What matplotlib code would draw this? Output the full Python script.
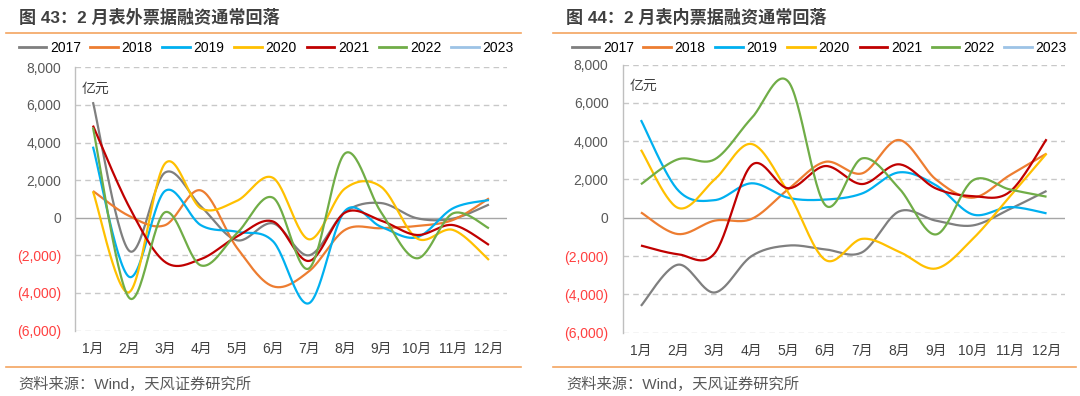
import matplotlib
matplotlib.use("Agg")
import matplotlib.pyplot as plt
from matplotlib.lines import Line2D
from matplotlib.ticker import FuncFormatter
import numpy as np

plt.rcParams['font.family'] = ['Liberation Sans', 'Noto Sans CJK SC', 'DejaVu Sans']

months = ["1月", "2月", "3月", "4月", "5月", "6月", "7月", "8月", "9月", "10月", "11月", "12月"]
years = ["2017", "2018", "2019", "2020", "2021", "2022", "2023"]
colors = ["#7F7F7F", "#ED7D31", "#00B0F0", "#FFC000", "#C00000", "#70AD47", "#9DC3E6"]

# 表外票据融资（亿元）
off_2017 = [6150, -1750, 2400, 600, -1200, -300, -2000, 300, 780, -30, -50, 700]
off_2018 = [1420, 100, -400, 1450, -1600, -3650, -2850, -650, -560, -440, -120, 1030]
off_2019 = [3780, -3140, 1420, -400, -750, -1250, -4550, 360, -480, -1040, 500, 940]
off_2020 = [1400, -3970, 2880, 500, 900, 2120, -1150, 1550, 1650, -1100, -650, -2250]
off_2021 = [4900, 600, -2350, -2200, -1000, -200, -2300, 270, -150, -920, -390, -1450]
off_2022 = [4800, -4250, 290, -2540, -830, 1065, -2700, 3420, 300, -2160, 230, -560]
off_2023 = []

# 表内票据融资（亿元）
on_2017 = [-4600, -2450, -3900, -2000, -1450, -1650, -1800, 330, -150, -400, 450, 1400]
on_2018 = [280, -850, -150, -60, 1500, 2920, 2320, 4060, 2000, 1050, 2220, 3350]
on_2019 = [5100, 1450, 920, 1800, 1040, 950, 1270, 2370, 1700, 170, 560, 230]
on_2020 = [3550, 520, 2000, 3850, 1300, -2200, -1100, -1770, -2650, -1100, 1100, 3350]
on_2021 = [-1450, -1900, -1850, 2750, 1540, 2700, 1760, 2790, 1530, 1130, 1350, 4100]
on_2022 = [1750, 3050, 3050, 5200, 7100, 660, 3100, 1540, -870, 1950, 1480, 1100]
on_2023 = []

off_series = [off_2017, off_2018, off_2019, off_2020, off_2021, off_2022, off_2023]
on_series = [on_2017, on_2018, on_2019, on_2020, on_2021, on_2022, on_2023]


def smooth(ys, n=30):
    # Excel 风格的平滑线（Catmull-Rom 贝塞尔）
    ys = np.asarray(ys, dtype=float)
    xs = np.arange(len(ys), dtype=float)
    if len(ys) < 3:
        return xs, ys
    px, py = [], []
    t = np.linspace(0, 1, n)
    for i in range(len(ys) - 1):
        p0 = np.array([xs[max(i - 1, 0)], ys[max(i - 1, 0)]])
        p1 = np.array([xs[i], ys[i]])
        p2 = np.array([xs[i + 1], ys[i + 1]])
        p3 = np.array([xs[min(i + 2, len(ys) - 1)], ys[min(i + 2, len(ys) - 1)]])
        c1 = p1 + (p2 - p0) / 6
        c2 = p2 - (p3 - p1) / 6
        b = ((1 - t) ** 3)[:, None] * p1 + (3 * (1 - t) ** 2 * t)[:, None] * c1 \
            + (3 * (1 - t) * t ** 2)[:, None] * c2 + (t ** 3)[:, None] * p2
        px.extend(b[:, 0])
        py.extend(b[:, 1])
    return np.array(px), np.array(py)


def fmt(v, pos):
    if v < 0:
        return f"({abs(v):,.0f})"
    return f"{v:,.0f}"


def draw(ax, series):
    for v in range(-6000, 8001, 2000):
        if v == 0:
            ax.axhline(0, color="#A6A6A6", lw=1.0, zorder=1)
        else:
            ax.axhline(v, color="#C8C8C8", lw=1.0, ls=(0, (4, 3)), zorder=1)
    for ys, c in zip(series, colors):
        if len(ys) == 0:
            continue
        sx, sy = smooth(ys)
        ax.plot(sx, sy, color=c, lw=1.6, zorder=3, solid_capstyle="butt")
    ax.set_xlim(-0.5, 11.5)
    ax.set_ylim(-6000, 8000)
    ax.set_yticks(range(-6000, 8001, 2000))
    ax.yaxis.set_major_formatter(FuncFormatter(fmt))
    ax.set_xticks(range(12))
    ax.set_xticklabels(months)
    ax.tick_params(axis="both", length=0, labelsize=10, colors="#404040")
    ax.tick_params(axis="y", pad=10)
    ax.tick_params(axis="x", pad=8)
    for lab, v in zip(ax.get_yticklabels(), range(-6000, 8001, 2000)):
        lab.set_color("#FF4040" if v < 0 else "#595959")
    for s in ["top", "right", "bottom"]:
        ax.spines[s].set_visible(False)
    ax.spines["left"].set_color("#BFBFBF")
    ax.spines["left"].set_linewidth(1.0)
    ax.text(0.047, 0.92, "亿元", transform=ax.transAxes, ha="center", va="center",
            fontsize=10, color="#404040")


fig = plt.figure(figsize=(10.8, 3.96), dpi=100)
ax1 = fig.add_axes([0.0694, 0.1654, 0.4, 0.6646])
ax2 = fig.add_axes([0.5764, 0.1598, 0.4097, 0.6773])
draw(ax1, off_series)
draw(ax2, on_series)

H = 396.0
fig.text(19 / 1080, 1 - 17 / H, "图 43：2 月表外票据融资通常回落", fontsize=12.3, fontweight="bold",
         color="#404040", ha="left", va="center")
fig.text(566 / 1080, 1 - 17 / H, "图 44：2 月表内票据融资通常回落", fontsize=12.3, fontweight="bold",
         color="#404040", ha="left", va="center")
for x0, x1 in [(6, 521), (553, 1076)]:
    for yy in (33, 367):
        fig.add_artist(Line2D([x0 / 1080, x1 / 1080], [1 - yy / H, 1 - yy / H],
                              color="#F4A460", lw=1.2))
fig.text(18 / 1080, 1 - 384 / H, "资料来源：Wind，天风证券研究所", fontsize=11,
         color="#595959", ha="left", va="center")
fig.text(566 / 1080, 1 - 384 / H, "资料来源：Wind，天风证券研究所", fontsize=11,
         color="#595959", ha="left", va="center")

handles = [Line2D([], [], color=c, lw=2) for c in colors]
for cx in (266, 819):
    fig.legend(handles, years, loc="center", bbox_to_anchor=(cx / 1080, 1 - 48 / H),
               ncol=7, frameon=False, fontsize=10, handlelength=2.0, handletextpad=0.25,
               columnspacing=0.7, borderaxespad=0)

fig.savefig("out.png", dpi=100)
